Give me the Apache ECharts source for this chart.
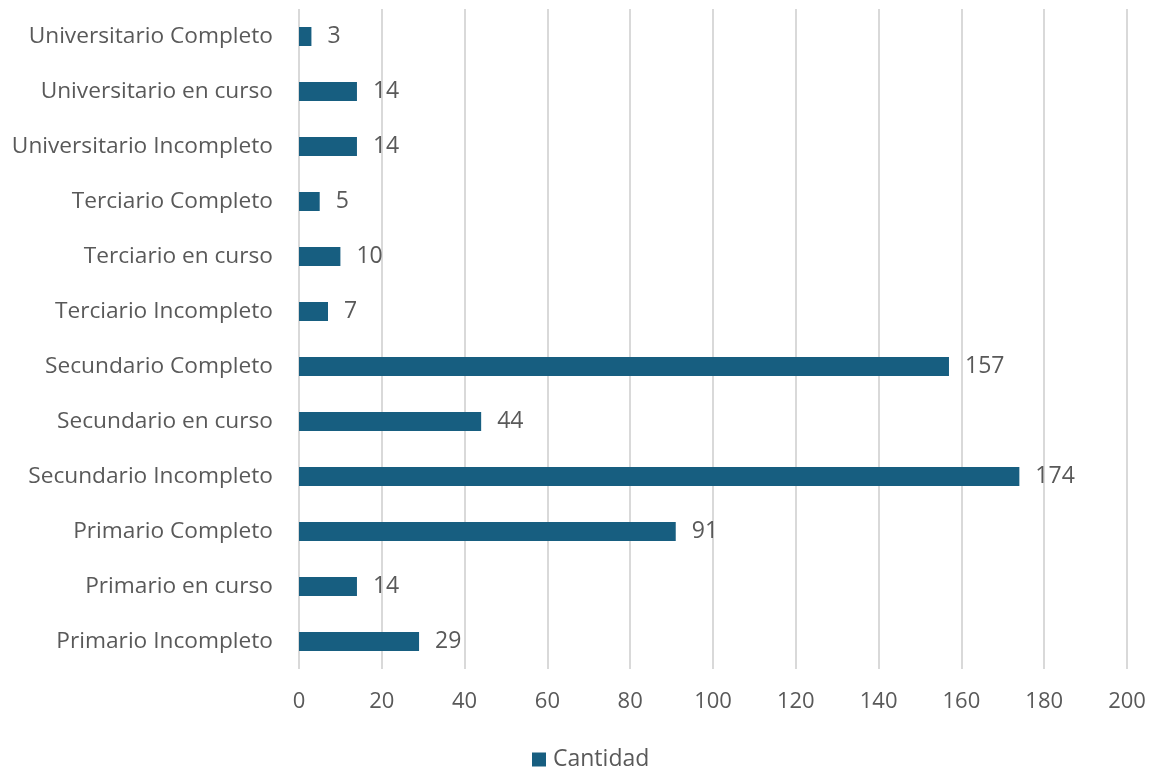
<!DOCTYPE html>
<html>
<head>
<meta charset="utf-8">
<style>
  html, body { margin: 0; padding: 0; background: #ffffff; }
  #chart { width: 1153px; height: 769px; }
</style>
<script src="https://cdn.jsdelivr.net/npm/echarts@6/dist/echarts.min.js"></script>
</head>
<body>
<div id="chart"></div>
<script>
// Education level categories, bottom to top
const categories = [
  'Primario Incompleto',
  'Primario en curso',
  'Primario Completo',
  'Secundario Incompleto',
  'Secundario en curso',
  'Secundario Completo',
  'Terciario Incompleto',
  'Terciario en curso',
  'Terciario Completo',
  'Universitario Incompleto',
  'Universitario en curso',
  'Universitario Completo'
];
const cantidad = [29, 14, 91, 174, 44, 157, 7, 10, 5, 14, 14, 3];
const seriesName = 'Cantidad';

const textColor = '#595959';
const fontFamily = '"Open Sans", "Noto Sans", sans-serif';

const chart = echarts.init(document.getElementById('chart'));
chart.setOption({
  animation: false,
  textStyle: { fontFamily: fontFamily },
  grid: { left: 299, right: 26, top: 9, bottom: 100, containLabel: false },
  legend: {
    data: [seriesName],
    left: 527,
    top: 743,
    icon: 'rect',
    itemWidth: 14,
    itemHeight: 14,
    itemGap: 7,
    textStyle: { color: textColor, fontSize: 23, fontFamily: fontFamily, padding: [0, 0, 0, 2] }
  },
  xAxis: {
    type: 'value',
    min: 0,
    max: 200,
    interval: 20,
    axisLine: { show: false },
    axisTick: { show: false },
    splitLine: { show: true, lineStyle: { color: '#d9d9d9', width: 2 } },
    axisLabel: { color: textColor, fontSize: 22, margin: 22, fontFamily: fontFamily }
  },
  yAxis: {
    type: 'category',
    data: categories,
    axisLine: { show: false },
    axisTick: { show: false },
    axisLabel: { color: textColor, fontSize: 22.7, margin: 26, fontFamily: fontFamily, padding: [2, 0, 0, 0] }
  },
  series: [{
    name: seriesName,
    type: 'bar',
    data: cantidad,
    barWidth: 19,
    itemStyle: { color: '#175e80' },
    label: {
      show: true,
      position: 'right',
      distance: 16,
      color: textColor,
      fontSize: 23,
      fontFamily: fontFamily,
      padding: [2, 0, 0, 0]
    }
  }]
});
</script>
</body>
</html>
